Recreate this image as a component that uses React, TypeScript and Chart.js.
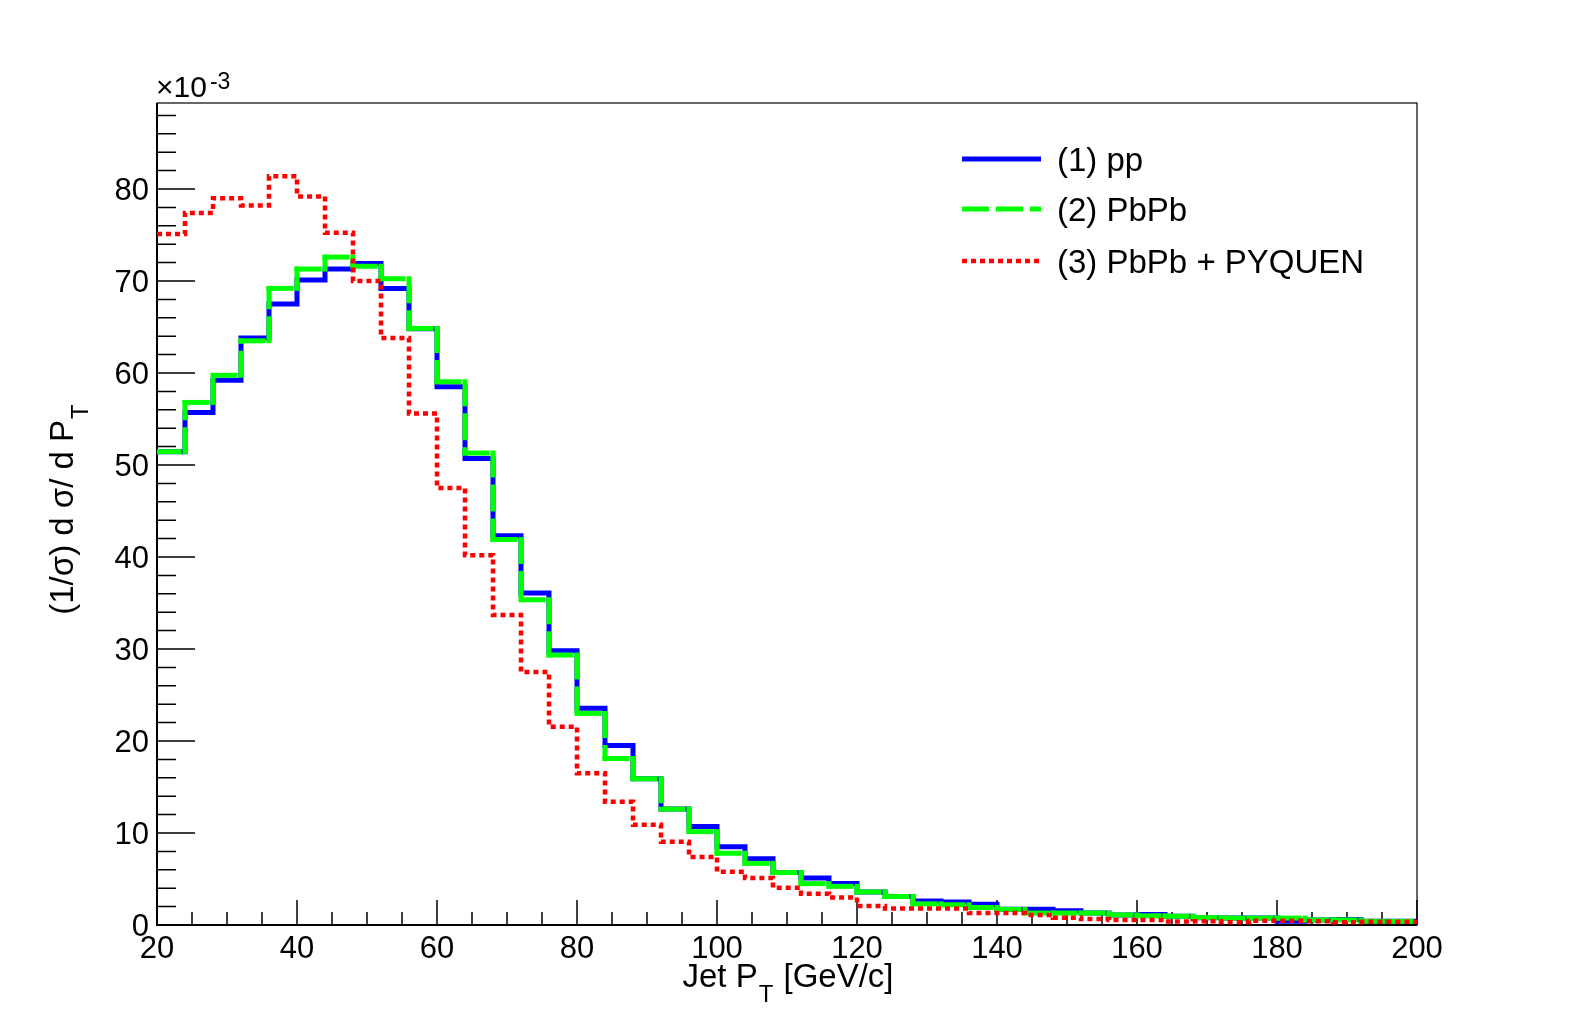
import React, { useEffect, useRef } from 'react';
import { Chart, registerables } from 'chart.js';

Chart.register(...registerables);

// lower edges of the 4 GeV/c bins, last upper edge is 200
const binLow = [
  20, 24, 28, 32, 36, 40, 44, 48, 52, 56, 60, 64, 68, 72, 76, 80, 84, 88, 92, 96, 100, 104, 108,
  112, 116, 120, 124, 128, 132, 136, 140, 144, 148, 152, 156, 160, 164, 168, 172, 176, 180, 184,
  188, 192, 196,
];
const binHigh = 200;

// values in units of 1e-3
const ppValues = [
  51.45, 55.7, 59.2, 63.8, 67.5, 70.1, 71.3, 71.9, 69.2, 64.8, 58.5, 50.7, 42.3, 36.1, 29.8, 23.55,
  19.5, 15.9, 12.6, 10.7, 8.5, 7.2, 5.7, 5.1, 4.5, 3.6, 3.1, 2.6, 2.5, 2.25, 1.7, 1.7, 1.55, 1.3,
  1.1, 1.15, 0.95, 0.8, 0.75, 0.75, 0.4, 0.55, 0.6, 0.4, 0.4,
];
const pbpbValues = [
  51.45, 56.8, 59.75, 63.5, 69.2, 71.3, 72.6, 71.6, 70.25, 64.85, 59.05, 51.3, 41.9, 35.35, 29.35,
  23.0, 18.1, 15.9, 12.6, 10.15, 7.8, 6.7, 5.7, 4.5, 4.2, 3.6, 3.1, 2.3, 2.2, 1.9, 1.7, 1.3, 1.3,
  1.3, 1.1, 1.0, 0.95, 0.8, 0.75, 0.75, 0.75, 0.55, 0.55, 0.4, 0.4,
];
const pyquenValues = [
  75.1, 77.4, 79.0, 78.2, 81.4, 79.2, 75.25, 70.0, 63.8, 55.6, 47.5, 40.2, 33.7, 27.5, 21.55, 16.5,
  13.4, 10.9, 9.05, 7.4, 5.8, 5.1, 4.05, 3.4, 3.0, 2.07, 1.8, 1.8, 1.8, 1.3, 1.3, 1.1, 0.8, 0.65,
  0.55, 0.55, 0.37, 0.4, 0.3, 0.45, 0.45, 0.4, 0.3, 0.35, 0.35,
];

const seriesNames = ['(1) pp', '(2) PbPb', '(3) PbPb + PYQUEN'];
const xTickLabels = [20, 40, 60, 80, 100, 120, 140, 160, 180, 200];
const yTickLabels = [0, 10, 20, 30, 40, 50, 60, 70, 80];

const FONT = '"Liberation Sans", Arial, Helvetica, sans-serif';

// stepped points: one per bin low edge plus the closing edge
const toSteps = (values: number[]) => {
  const pts = binLow.map((x, i) => ({ x, y: values[i] }));
  pts.push({ x: binHigh, y: values[values.length - 1] });
  return pts;
};

// explicit corners, so every horizontal/vertical piece can restart its dash (like ROOT)
const toCorners = (values: number[]) => {
  const pts: { x: number; y: number }[] = [];
  binLow.forEach((x, i) => {
    pts.push({ x, y: values[i] });
    const next = i + 1 < binLow.length ? binLow[i + 1] : binHigh;
    pts.push({ x: next, y: values[i] });
  });
  return pts;
};

const styles = [
  { color: '#0000ff', width: 5, dash: [] as number[] },
  { color: '#00ff00', width: 5, dash: [27, 7] },
  { color: '#ff0000', width: 4.5, dash: [5, 4] },
];

const rootPlugin = {
  id: 'rootPlugin',
  beforeDatasetsDraw(chart: any) {
    const { ctx, chartArea: a, scales } = chart;
    ctx.save();
    ctx.strokeStyle = '#000';
    ctx.lineWidth = 1.2;
    ctx.strokeRect(a.left, a.top, a.right - a.left, a.bottom - a.top);
    ctx.lineWidth = 2;
    ctx.beginPath();
    ctx.moveTo(a.left, a.top);
    ctx.lineTo(a.left, a.bottom);
    ctx.lineTo(a.right, a.bottom);
    ctx.stroke();

    ctx.lineWidth = 1.5;
    ctx.beginPath();
    for (let v = 20; v <= 200; v += 5) {
      const px = scales.x.getPixelForValue(v);
      const len = v % 20 === 0 ? 25 : 13;
      ctx.moveTo(px, a.bottom);
      ctx.lineTo(px, a.bottom - len);
    }
    for (let v = 0; v <= 88; v += 2) {
      const py = scales.y.getPixelForValue(v);
      const len = v % 10 === 0 ? 38 : 19;
      ctx.moveTo(a.left, py);
      ctx.lineTo(a.left + len, py);
    }
    ctx.stroke();
    ctx.restore();
  },
  afterDraw(chart: any) {
    const { ctx, chartArea: a, scales } = chart;
    ctx.save();
    ctx.fillStyle = '#000';

    // tick labels
    ctx.font = `31px ${FONT}`;
    ctx.textAlign = 'center';
    ctx.textBaseline = 'alphabetic';
    xTickLabels.forEach((v) => {
      ctx.fillText(String(v), scales.x.getPixelForValue(v), a.bottom + 33);
    });
    ctx.textAlign = 'right';
    yTickLabels.forEach((v) => {
      ctx.fillText(String(v), a.left - 8, scales.y.getPixelForValue(v) + 11);
    });

    // exponent
    ctx.textAlign = 'left';
    ctx.font = `30px ${FONT}`;
    ctx.fillText('×10', a.left - 1, a.top - 6);
    const ew = ctx.measureText('×10').width;
    ctx.font = `23px ${FONT}`;
    ctx.fillText('-3', a.left + ew + 2, a.top - 14);

    const tf = `33px ${FONT}`;
    const sf = `24px ${FONT}`;
    const drawTitle = (pre: string, sub: string, post: string, cx: number, base: number) => {
      ctx.font = tf;
      const w1 = ctx.measureText(pre).width;
      const w3 = ctx.measureText(post).width;
      ctx.font = sf;
      const w2 = ctx.measureText(sub).width;
      let x = cx - (w1 + w2 + w3) / 2;
      ctx.font = tf;
      ctx.fillText(pre, x, base);
      x += w1 + 1;
      ctx.font = sf;
      ctx.fillText(sub, x, base + 15);
      x += w2 + 1;
      ctx.font = tf;
      ctx.fillText(post, x, base);
    };
    // x title
    drawTitle('Jet P', 'T', ' [GeV/c]', (a.left + a.right) / 2, 987);

    // y title
    ctx.save();
    ctx.translate(73, (a.top + a.bottom) / 2 - 4);
    ctx.rotate(-Math.PI / 2);
    drawTitle('(1/σ) d σ/ d P', 'T', '', 0, 0);
    ctx.restore();

    // legend
    const rows = [159, 209, 261];
    seriesNames.forEach((name, i) => {
      const s = styles[i];
      ctx.save();
      ctx.strokeStyle = s.color;
      ctx.lineWidth = s.width;
      ctx.setLineDash(s.dash);
      ctx.beginPath();
      ctx.moveTo(962, rows[i]);
      ctx.lineTo(1041, rows[i]);
      ctx.stroke();
      ctx.restore();
      ctx.font = `33px ${FONT}`;
      ctx.fillStyle = '#000';
      ctx.fillText(name, 1057, rows[i] + 12);
    });
    ctx.restore();
  },
};

const App: React.FC = () => {
  const canvasRef = useRef<HTMLCanvasElement | null>(null);

  useEffect(() => {
    document.body.style.margin = '0';
    if (!canvasRef.current) return;
    const ctx = canvasRef.current.getContext('2d');
    if (!ctx) return;

    const chart = new Chart(ctx, {
      type: 'line',
      data: {
        datasets: [
          {
            label: seriesNames[0],
            data: toSteps(ppValues),
            borderColor: styles[0].color,
            borderWidth: styles[0].width,
            borderJoinStyle: 'miter',
            stepped: 'before',
            pointRadius: 0,
            fill: false,
            order: 3,
          },
          {
            label: seriesNames[1],
            data: toCorners(pbpbValues),
            borderColor: styles[1].color,
            borderWidth: styles[1].width,
            // square caps fill the corners, so shorten the dash by the width
            borderDash: [22, 12],
            borderCapStyle: 'square',
            pointRadius: 0,
            fill: false,
            order: 2,
            segment: {
              // alternate a tiny offset so each piece is stroked on its own
              borderDashOffset: (c: any) => (c.p0DataIndex % 2) * 0.001,
            },
          },
          {
            label: seriesNames[2],
            data: toSteps(pyquenValues),
            borderColor: styles[2].color,
            borderWidth: styles[2].width,
            borderDash: styles[2].dash,
            borderCapStyle: 'butt',
            borderJoinStyle: 'miter',
            stepped: 'before',
            pointRadius: 0,
            fill: false,
            order: 1,
          },
        ] as any,
      },
      options: {
        animation: false,
        responsive: true,
        maintainAspectRatio: false,
        layout: { padding: { left: 157, right: 157, top: 103, bottom: 103 } },
        plugins: { legend: { display: false }, tooltip: { enabled: false } },
        scales: {
          x: { type: 'linear', min: 20, max: 200, display: false },
          y: { type: 'linear', min: 0, max: 89.35, display: false },
        },
      },
      plugins: [rootPlugin],
    });

    return () => {
      chart.destroy();
    };
  }, []);

  return (
    <div style={{ width: 1574, height: 1028, position: 'relative', background: '#fff' }}>
      <canvas ref={canvasRef} />
    </div>
  );
};

export default App;
